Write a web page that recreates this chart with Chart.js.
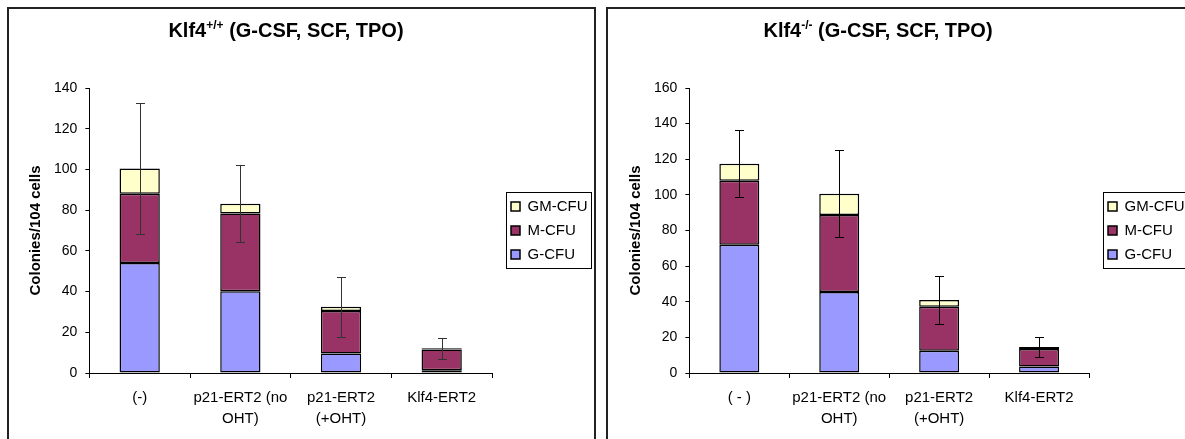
<!DOCTYPE html>
<html>
<head>
<meta charset="utf-8">
<title>Klf4 colonies</title>
<script src="https://cdn.jsdelivr.net/npm/chart.js"></script>
<style>
  body { margin: 0; width: 1185px; height: 439px; overflow: hidden; background: #fff; position: relative;
         font-family: Arial, "Liberation Sans", sans-serif; }
  .panel { position: absolute; top: 7px; height: 460px; border: 2px solid #222; box-sizing: border-box;
           z-index: 2; pointer-events: none; }
  .box { position: absolute; top: 8px; width: 586px; height: 431px; }
  .title { position: absolute; top: 19px; font-weight: bold; font-size: 20px; line-height: 22px;
           transform: translateX(-50%); white-space: nowrap; z-index: 3; }
  .title sup { font-size: 12px; line-height: 0; }
</style>
</head>
<body>
<div class="panel" style="left:7px; width:589px;"></div>
<div class="panel" style="left:606px; width:600px;"></div>

<div class="title" style="left:286px;">Klf4<sup>+/+</sup> (G-CSF, SCF, TPO)</div>
<div class="title" style="left:878px;">Klf4<sup>-/-</sup> (G-CSF, SCF, TPO)</div>

<div class="box" style="left:9px;"><canvas id="wt" width="586" height="431"></canvas></div>
<div class="box" style="left:609px;"><canvas id="ko" width="586" height="431"></canvas></div>

<script>
// data (stack segments, bottom to top)
const seriesNames = ['G-CFU', 'M-CFU', 'GM-CFU'];
const seriesColors = ['#9999ff', '#993366', '#ffffcc'];

const wtLabels = ['(-)', ['p21-ERT2 (no', 'OHT)'], ['p21-ERT2', '(+OHT)'], 'Klf4-ERT2'];
const wtG = [54, 40.2, 9.6, 1.3];
const wtM = [34, 38.2, 20.8, 10.3];
const wtGM = [12.5, 4.8, 2.1, 0.5];
const wtErr = [32.3, 19, 14.6, 5];
const wtMax = 140;

const koLabels = ['( - )', ['p21-ERT2 (no', 'OHT)'], ['p21-ERT2', '(+OHT)'], 'Klf4-ERT2'];
const koG = [72, 45.5, 12.5, 3.7];
const koM = [36, 43.2, 24.7, 9.8];
const koGM = [9.5, 12, 3.8, 1.1];
const koErr = [18.8, 24.5, 13.5, 5.7];
const koMax = 160;

const yTitle = 'Colonies/104 cells';

Chart.defaults.font.family = 'Arial, "Liberation Sans", sans-serif';
Chart.defaults.color = '#000';

// error bar on top of each stack
const errorBars = {
  id: 'errorBars',
  afterDatasetsDraw(chart, args, opts) {
    const {ctx, scales: {x, y}} = chart;
    ctx.save();
    ctx.strokeStyle = opts.color;
    ctx.lineWidth = 1;
    opts.values.forEach((e, i) => {
      const total = chart.data.datasets.reduce((s, d) => s + d.data[i], 0);
      const px = Math.round(x.getPixelForValue(i)) + 0.5;
      const top = Math.round(y.getPixelForValue(total + e)) + 0.5;
      const bot = Math.round(y.getPixelForValue(total - e)) + 0.5;
      ctx.beginPath();
      ctx.moveTo(px, top); ctx.lineTo(px, bot);
      ctx.moveTo(px - 4.5, top); ctx.lineTo(px + 4.5, top);
      ctx.moveTo(px - 4.5, bot); ctx.lineTo(px + 4.5, bot);
      ctx.stroke();
    });
    ctx.restore();
  }
};

// gap between plot and legend + frame around the legend
const legendFrame = {
  id: 'legendFrame',
  afterLayout(chart, args, opts) {
    chart.legend.left += opts.shift;
    chart.legend.right += opts.shift;
  },
  afterDraw(chart) {
    const hb = chart.legend.legendHitBoxes;
    if (!hb || !hb.length) return;
    const l = Math.min(...hb.map(b => b.left)) - 5;
    const r = Math.max(...hb.map(b => b.left + b.width)) + 4;
    const t = Math.min(...hb.map(b => b.top)) - 7;
    const btm = Math.max(...hb.map(b => b.top + b.height)) + 6;
    const ctx = chart.ctx;
    ctx.save();
    ctx.strokeStyle = '#000';
    ctx.lineWidth = 1;
    ctx.strokeRect(Math.round(l) + 0.5, Math.round(t) + 0.5, Math.round(r - l), Math.round(btm - t));
    ctx.restore();
  }
};

function makeChart(id, labels, series, err, yMax, errColor, padRight) {
  return new Chart(document.getElementById(id), {
    type: 'bar',
    data: {
      labels: labels,
      datasets: series.map((d, i) => ({
        label: seriesNames[i],
        data: d,
        backgroundColor: seriesColors[i],
        borderColor: '#000',
        borderWidth: 1.5,
        borderSkipped: false,
        barPercentage: 0.4,
        categoryPercentage: 1
      }))
    },
    options: {
      responsive: false,
      animation: false,
      layout: { padding: { left: 9, top: 80, right: padRight, bottom: 1 } },
      scales: {
        x: {
          stacked: true,
          ticks: { font: { size: 15, lineHeight: 1.4 }, padding: 9, maxRotation: 0, autoSkip: false },
          grid: { drawOnChartArea: false, tickLength: 5, color: '#000', offset: true },
          border: { color: '#000' }
        },
        y: {
          stacked: true,
          min: 0,
          max: yMax,
          ticks: { stepSize: 20, padding: 8, font: { size: 14 } },
          grid: { drawOnChartArea: false, tickLength: 4, color: '#000' },
          border: { color: '#000' },
          title: { display: true, text: yTitle, font: { size: 15, weight: 'bold' }, padding: { top: 9, bottom: 1 } }
        }
      },
      plugins: {
        legend: {
          position: 'right',
          fullSize: false,
          reverse: true,
          labels: { boxWidth: 9, boxHeight: 9, padding: 9, font: { size: 15 } }
        },
        tooltip: { enabled: false },
        errorBars: { values: err, color: errColor },
        legendFrame: { shift: 10 }
      }
    },
    plugins: [errorBars, legendFrame]
  });
}

makeChart('wt', wtLabels, [wtG, wtM, wtGM], wtErr, wtMax, '#333', 7.5);
makeChart('ko', koLabels, [koG, koM, koGM], koErr, koMax, '#000', 10.5);
</script>
</body>
</html>
